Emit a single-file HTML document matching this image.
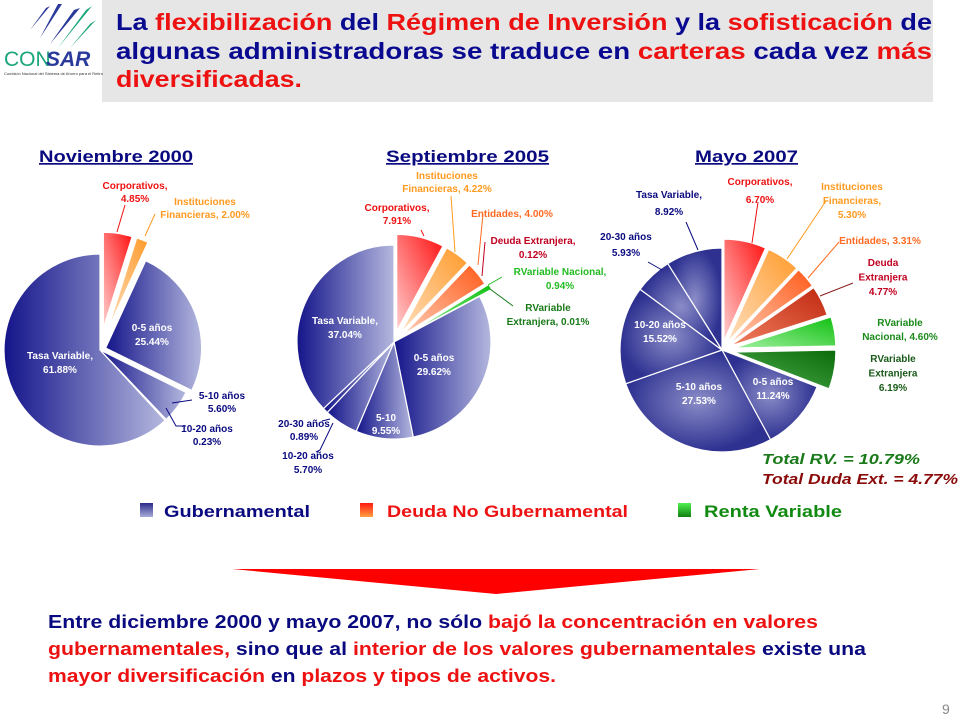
<!DOCTYPE html>
<html><head><meta charset="utf-8">
<style>
html,body{margin:0;padding:0;background:#fff;}
#root{position:relative;width:960px;height:720px;overflow:hidden;font-family:"Liberation Sans",Arial,sans-serif;}
svg text{font-family:"Liberation Sans",Arial,sans-serif;font-weight:bold;}
</style></head>
<body><div id="root">
<svg id="svg" width="960" height="720" viewBox="0 0 960 720">
<defs>
<linearGradient id="gov" x1="0" y1="0" x2="1" y2="0"><stop offset="0" stop-color="#14148a"/><stop offset="1" stop-color="#b4b8de"/></linearGradient>
<radialGradient id="gov3" cx="0.5" cy="0.5" r="0.5"><stop offset="0" stop-color="#8a8cc8"/><stop offset="1" stop-color="#2e3190"/></radialGradient>
<linearGradient id="red" x1="1" y1="0" x2="0" y2="1"><stop offset="0" stop-color="#ff1010"/><stop offset="1" stop-color="#ffd0d0"/></linearGradient>
<linearGradient id="org" x1="1" y1="0" x2="0" y2="1"><stop offset="0" stop-color="#ff9a2a"/><stop offset="1" stop-color="#ffe0c0"/></linearGradient>
<linearGradient id="ent" x1="1" y1="0" x2="0" y2="1"><stop offset="0" stop-color="#ff5a1a"/><stop offset="1" stop-color="#ffd0b8"/></linearGradient>
<linearGradient id="dex" x1="1" y1="0" x2="0" y2="1"><stop offset="0" stop-color="#c02810"/><stop offset="1" stop-color="#f08060"/></linearGradient>
<linearGradient id="gnac" x1="1" y1="0" x2="0" y2="1"><stop offset="0" stop-color="#10c010"/><stop offset="1" stop-color="#a0f0a0"/></linearGradient>
<linearGradient id="gext" x1="1" y1="0" x2="0" y2="1"><stop offset="0" stop-color="#0a6a0a"/><stop offset="1" stop-color="#50b050"/></linearGradient>
<linearGradient id="lg-gov" x1="0" y1="0" x2="0" y2="1"><stop offset="0" stop-color="#2a2a8a"/><stop offset="1" stop-color="#a8acd8"/></linearGradient>
<linearGradient id="lg-red" x1="0" y1="0" x2="0" y2="1"><stop offset="0" stop-color="#ff1a10"/><stop offset="1" stop-color="#ffa040"/></linearGradient>
<linearGradient id="lg-grn" x1="0" y1="0" x2="0" y2="1"><stop offset="0" stop-color="#50f050"/><stop offset="1" stop-color="#108010"/></linearGradient>
</defs>
<rect x="102" y="0" width="831" height="102" fill="#e6e6e6"/>
<g>
<path d="M40 38 L62 4 L58 4 Z M50 44 L80 8 L74 10 Z M30 30 L50 6 L46 8 Z" fill="#2a3a9a"/>
<path d="M58 48 L92 6 L86 10 Z M70 48 L96 20 L90 24 Z" fill="#1aa57a"/>
<text x="4" y="66" font-size="21" fill="#1aa57a" style="font-weight:normal">CON</text>
<text x="46" y="66" font-size="21" fill="#2a3a9a" font-style="italic">SAR</text>
<text x="4" y="75" font-size="4" fill="#333" style="font-weight:normal">Comisión Nacional del Sistema de Ahorro para el Retiro</text>
</g>
<g font-size="23">
<text x="116" y="30" fill="#0a0a90" textLength="816" lengthAdjust="spacingAndGlyphs">La <tspan fill="#ee1111">flexibilización</tspan> del <tspan fill="#ee1111">Régimen de Inversión</tspan> y la <tspan fill="#ee1111">sofisticación</tspan> de</text>
<text x="116" y="59" fill="#0a0a90" textLength="816" lengthAdjust="spacingAndGlyphs">algunas administradoras se traduce en <tspan fill="#ee1111">carteras</tspan> cada vez <tspan fill="#ee1111">más</tspan></text>
<text x="116" y="87" fill="#ee1111" textLength="186" lengthAdjust="spacingAndGlyphs">diversificadas.</text>
</g>
<g font-size="17" fill="#0a0a80" text-decoration="underline">
<text x="39" y="162" textLength="154" lengthAdjust="spacingAndGlyphs">Noviembre 2000</text>
<text x="386" y="162" textLength="163" lengthAdjust="spacingAndGlyphs">Septiembre 2005</text>
<text x="695" y="162" textLength="103" lengthAdjust="spacingAndGlyphs">Mayo 2007</text>
</g>
<g id="pies"></g>
<g id="labels"></g>
<g font-size="15" font-style="italic">
<text x="762" y="464" fill="#1a7a1a" textLength="158" lengthAdjust="spacingAndGlyphs">Total RV. = 10.79%</text>
<text x="762" y="484" fill="#8a0a0a" textLength="196" lengthAdjust="spacingAndGlyphs">Total Duda Ext. = 4.77%</text>
</g>
<g font-size="17">
<rect x="140" y="503" width="13" height="14" fill="url(#lg-gov)"/><text x="164" y="517" fill="#0a0a80" textLength="146" lengthAdjust="spacingAndGlyphs">Gubernamental</text>
<rect x="360" y="503" width="13" height="14" fill="url(#lg-red)"/><text x="387" y="517" fill="#ee1111" textLength="241" lengthAdjust="spacingAndGlyphs">Deuda No Gubernamental</text>
<rect x="678" y="503" width="13" height="14" fill="url(#lg-grn)"/><text x="704" y="517" fill="#118a11" textLength="138" lengthAdjust="spacingAndGlyphs">Renta Variable</text>
</g>
<polygon points="232,569 760,569 496,594" fill="#ff0000"/>
<g font-size="18">
<text x="48" y="628" fill="#0a0a80" textLength="770" lengthAdjust="spacingAndGlyphs">Entre diciembre 2000 y mayo 2007, no sólo <tspan fill="#ee1111">bajó la concentración en valores</tspan></text>
<text x="48" y="655" fill="#ee1111" textLength="818" lengthAdjust="spacingAndGlyphs">gubernamentales,<tspan fill="#0a0a80"> sino que al </tspan>interior de los valores gubernamentales<tspan fill="#0a0a80"> existe una</tspan></text>
<text x="48" y="682" fill="#ee1111" textLength="508" lengthAdjust="spacingAndGlyphs">mayor diversificación<tspan fill="#0a0a80"> en </tspan>plazos y tipos de activos.</text>
</g>
<text x="942" y="714" font-size="14" fill="#888" style="font-weight:normal">9</text>
</svg>
</div>
<script>
const names1 = ["Corporativos","Instituciones Financieras","0-5 años","5-10 años","10-20 años","Tasa Variable"];
const values1 = [4.85, 2.00, 25.44, 5.60, 0.23, 61.88];
const names2 = ["Corporativos","Instituciones Financieras","Entidades","Deuda Extranjera","RVariable Nacional","RVariable Extranjera","0-5 años","5-10 años","10-20 años","20-30 años","Tasa Variable"];
const values2 = [7.91, 4.22, 4.00, 0.12, 0.94, 0.01, 29.62, 9.55, 5.70, 0.89, 37.04];
const names3 = ["Corporativos","Instituciones Financieras","Entidades","Deuda Extranjera","RVariable Nacional","RVariable Extranjera","0-5 años","5-10 años","10-20 años","20-30 años","Tasa Variable"];
const values3 = [6.70, 5.30, 3.31, 4.77, 4.60, 6.19, 11.24, 27.53, 15.52, 5.93, 8.92];

const NS = "http://www.w3.org/2000/svg";
const fills = {"Corporativos":"url(#red)","Instituciones Financieras":"url(#org)","Entidades":"url(#ent)","Deuda Extranjera":"url(#dex)","RVariable Nacional":"url(#gnac)","RVariable Extranjera":"url(#gext)"};
function explodeFor(pie, name){
  const ng = name in fills;
  if(pie===1) return ng ? 22 : (name==="0-5 años"?6:0);
  if(pie===2) return ng ? (name.startsWith("RVariable")?14:11) : 0;
  return ng ? (name.startsWith("RVariable")?12:9) : 0;
}
function drawPie(pie, names, values, cx, cy, r, govFill){
  const g = document.getElementById('pies');
  const total = values.reduce((a,b)=>a+b,0);
  let a0 = -Math.PI/2;
  names.forEach((n,i)=>{
    const sweep = values[i]/total*2*Math.PI;
    const a1 = a0+sweep, am=(a0+a1)/2;
    const off = explodeFor(pie,n);
    const ox = cx+off*Math.cos(am), oy = cy+off*Math.sin(am);
    const x0=ox+r*Math.cos(a0), y0=oy+r*Math.sin(a0), x1=ox+r*Math.cos(a1), y1=oy+r*Math.sin(a1);
    const p = document.createElementNS(NS,'path');
    p.setAttribute('d',`M${ox},${oy} L${x0},${y0} A${r},${r} 0 ${sweep>Math.PI?1:0} 1 ${x1},${y1} Z`);
    p.setAttribute('fill', fills[n]||govFill);
    p.setAttribute('stroke','#fff');
    p.setAttribute('stroke-width','1.2');
    
    
    g.appendChild(p);
    a0 = a1;
  });
}
drawPie(1, names1, values1, 100, 350, 96, "url(#gov)");
drawPie(2, names2, values2, 394, 342, 97, "url(#gov)");
drawPie(3, names3, values3, 722, 350, 102, "url(#gov3)");

// label layout: [x, y, color, lineHeight, lines]
const labelLayout = [
 [135,189,"#ee1111",13,["Corporativos,","4.85%"]],
 [205,205,"#ff9a20",13,["Instituciones","Financieras, 2.00%"]],
 [152,331,"#fff",14,["0-5 años","25.44%"]],
 [60,359,"#fff",14,["Tasa Variable,","61.88%"]],
 [222,399,"#0a0a80",13,["5-10  años","5.60%"]],
 [207,432,"#0a0a80",13,["10-20 años","0.23%"]],
 [447,179,"#ff9a20",13,["Instituciones","Financieras, 4.22%"]],
 [397,211,"#ee1111",13,["Corporativos,","7.91%"]],
 [512,217,"#ff6a20",13,["Entidades, 4.00%"]],
 [533,244,"#c00020",14,["Deuda Extranjera,","0.12%"]],
 [560,275,"#22bb22",14,["RVariable Nacional,","0.94%"]],
 [548,311,"#1a7a1a",14,["RVariable","Extranjera, 0.01%"]],
 [345,324,"#fff",14,["Tasa Variable,","37.04%"]],
 [434,361,"#fff",14,["0-5 años","29.62%"]],
 [386,421,"#fff",13,["5-10","9.55%"]],
 [304,427,"#0a0a80",13,["20-30  años","0.89%"]],
 [308,459,"#0a0a80",14,["10-20  años","5.70%"]],
 [669,198,"#0a0a80",17,["Tasa Variable,","8.92%"]],
 [760,185,"#ee1111",18,["Corporativos,","6.70%"]],
 [852,190,"#ff9a20",14,["Instituciones","Financieras,","5.30%"]],
 [880,244,"#ff6a20",14,["Entidades, 3.31%"]],
 [883,266,"#c00020",14.5,["Deuda","Extranjera","4.77%"]],
 [626,240,"#0a0a80",16,["20-30 años","5.93%"]],
 [900,326,"#1a8a1a",14,["RVariable","Nacional, 4.60%"]],
 [893,362,"#1a5a1a",14.5,["RVariable","Extranjera","6.19%"]],
 [660,328,"#fff",14,["10-20 años","15.52%"]],
 [699,390,"#fff",14,["5-10 años","27.53%"]],
 [773,385,"#fff",14,["0-5 años","11.24%"]]
];
const lg = document.getElementById('labels');
labelLayout.forEach((L,i)=>{
  const t = document.createElementNS(NS,'text');
  t.setAttribute('text-anchor','middle');
  t.setAttribute('font-size',10);
  t.setAttribute('fill',L[2]);
  
  
  L[4].forEach((s,j)=>{
    const ts=document.createElementNS(NS,'tspan');
    ts.setAttribute('x',L[0]);ts.setAttribute('y',L[1]+j*L[3]);
    ts.textContent=s;t.appendChild(ts);
  });
  lg.appendChild(t);
});
// leader lines
const leaders = [
 ["M125,205 L117,232","#ee1111"],["M155,214 L145,236","#ff9a20"],
 ["M172,403 L192,400","#0a0a80"],["M166,408 L176,426 L186,426","#0a0a80"],
 ["M451,196 L455,252","#ff9a20"],["M483,214 L478,265","#ff6a20"],["M421,230 L424,236","#ee1111"],
 ["M485,242 L482,276","#c00020"],["M488,285 L502,277","#22bb22"],["M490,289 L513,306","#1a7a1a"],
 ["M330,419 L322,421","#0a0a80"],["M333,423 L320,450 L316,452","#0a0a80"],
 ["M686,222 L698,250","#0a0a80"],["M758,202 L752,243","#ee1111"],["M826,201 L787,259","#ff9a20"],
 ["M839,242 L808,278","#ff6a20"],["M853,283 L820,296","#8a2020"],
 ["M648,262 L662,270","#0a0a80"]
];
leaders.forEach(l=>{
  const p=document.createElementNS(NS,'path');
  p.setAttribute('d',l[0]);p.setAttribute('stroke',l[1]);p.setAttribute('fill','none');p.setAttribute('stroke-width','1');
  
  
  lg.appendChild(p);
});
</script>
</body></html>
